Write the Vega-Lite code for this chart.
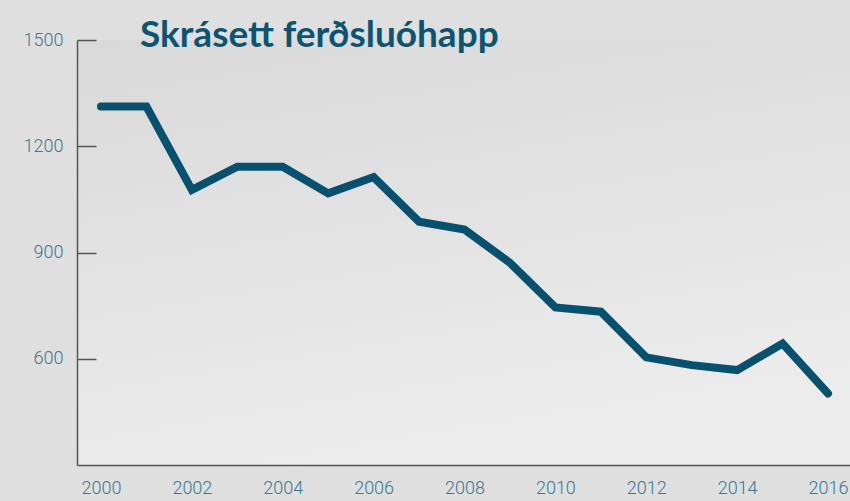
{
  "$schema": "https://vega.github.io/schema/vega-lite/v6.json",
  "width": 773,
  "height": 425,
  "autosize": {"type": "none"},
  "padding": {"left": 77, "top": 40, "right": 0, "bottom": 36},
  "background": "#dfdfdf",
  "config": {
    "view": {
      "stroke": null,
      "fill": {
        "gradient": "linear",
        "x1": 0, "y1": 0, "x2": 0.3, "y2": 1,
        "stops": [
          {"offset": 0, "color": "#d9d9d9"},
          {"offset": 1, "color": "#ececec"}
        ]
      }
    }
  },
  "title": {
    "text": "Skrásett ferðsluóhapp",
    "anchor": "start",
    "frame": "group",
    "orient": "top",
    "baseline": "alphabetic",
    "offset": -4,
    "dx": 63,
    "dy": 49,
    "font": "Lato",
    "fontWeight": "bold",
    "fontSize": 37,
    "color": "#0b5472"
  },
  "data": {
    "values": [
      {"year": 2000, "value": 1312},
      {"year": 2001, "value": 1312},
      {"year": 2002, "value": 1077},
      {"year": 2003, "value": 1142},
      {"year": 2004, "value": 1142},
      {"year": 2005, "value": 1067},
      {"year": 2006, "value": 1113},
      {"year": 2007, "value": 987},
      {"year": 2008, "value": 965},
      {"year": 2009, "value": 871},
      {"year": 2010, "value": 745},
      {"year": 2011, "value": 733},
      {"year": 2012, "value": 604},
      {"year": 2013, "value": 582},
      {"year": 2014, "value": 568},
      {"year": 2015, "value": 643},
      {"year": 2016, "value": 502}
    ]
  },
  "mark": {
    "type": "line",
    "color": "#07516e",
    "strokeWidth": 8,
    "strokeCap": "round",
    "clip": false
  },
  "encoding": {
    "x": {
      "field": "year",
      "type": "quantitative",
      "scale": {"domain": [1999.472, 2016.484], "nice": false, "zero": false},
      "axis": {
        "title": null,
        "values": [2000, 2002, 2004, 2006, 2008, 2010, 2012, 2014, 2016],
        "format": "d",
        "grid": false,
        "ticks": false,
        "labelPadding": 14,
        "labelFont": "Roboto",
        "labelFontWeight": 300,
        "labelFontSize": 18,
        "labelColor": "#3a7891",
        "labelFlush": false,
        "labelOverlap": false,
        "domainColor": "#555555",
        "domainWidth": 1.5
      }
    },
    "y": {
      "field": "value",
      "type": "quantitative",
      "scale": {"domain": [300, 1500], "nice": false, "zero": false},
      "axis": {
        "title": null,
        "values": [600, 900, 1200, 1500],
        "format": "d",
        "grid": false,
        "tickSize": -19,
        "tickColor": "#555555",
        "tickWidth": 1.5,
        "labelPadding": 33,
        "labelFont": "Roboto",
        "labelFontWeight": 300,
        "labelFontSize": 18,
        "labelColor": "#3a7891",
        "labelFlush": false,
        "labelOverlap": false,
        "domainColor": "#555555",
        "domainWidth": 1.5
      }
    }
  }
}
